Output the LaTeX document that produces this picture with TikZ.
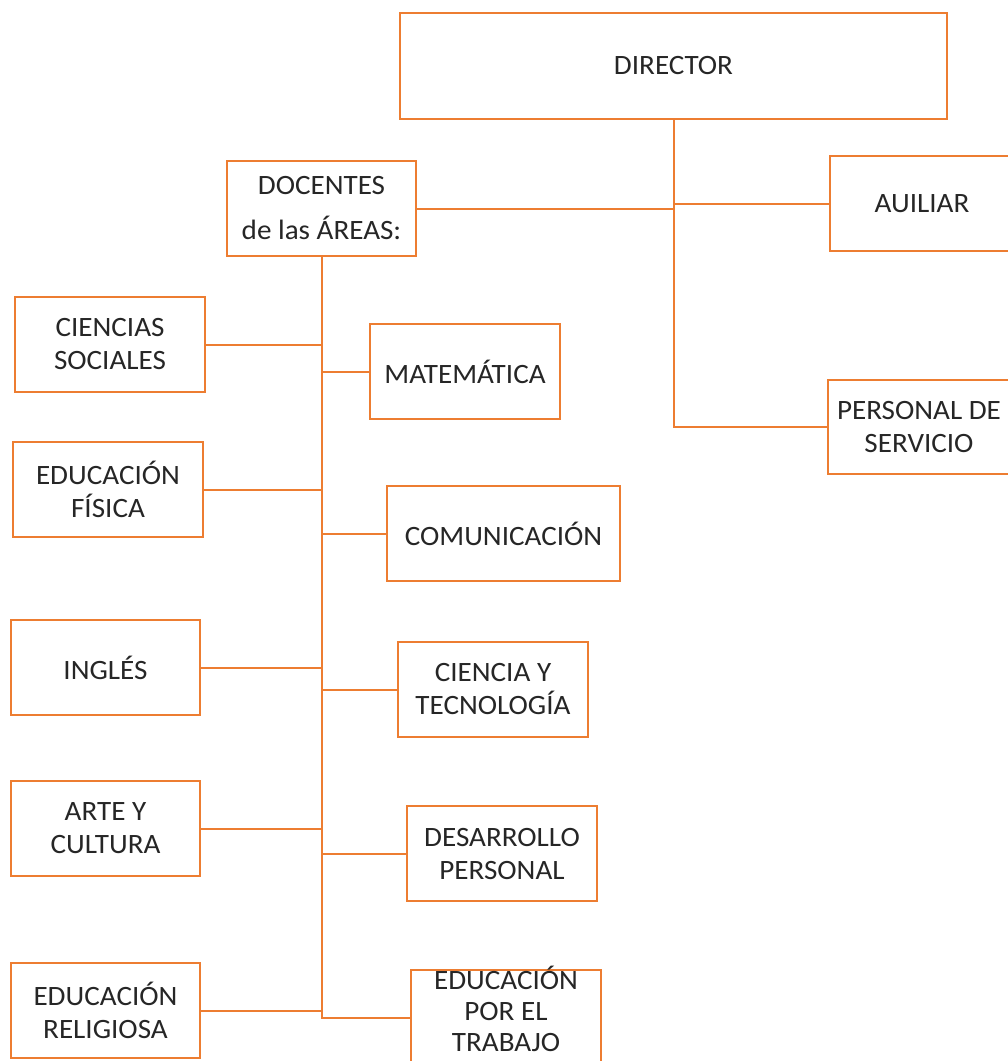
\documentclass[tikz,border=0pt]{standalone}
\usepackage{fontspec}
\setmainfont{Carlito}[FakeStretch=1.04]
\definecolor{org}{HTML}{ED7D31}
\begin{document}
\begin{tikzpicture}[x=1pt,y=-1pt,
  box/.style={draw=org,line width=2pt,fill=white,align=center,inner sep=0pt,
    font=\fontsize{28}{33}\selectfont,text=black!85},
  conn/.style={draw=org,line width=2pt}]
\useasboundingbox (0,0) rectangle (1008,1061);
\clip (0,0) rectangle (1008,1061);
% boxes
\node[box,minimum width=547pt,minimum height=106pt] (dir) at (673.5,66) {DIRECTOR};
\node[box,minimum width=189pt,minimum height=95pt] (doc) at (321.5,208.5) {DOCENTES\\[12pt]de las ÁREAS:};
\node[box,minimum width=184pt,minimum height=95pt] (aux) at (922,203.5) {AUILIAR};
\node[box,minimum width=182pt,minimum height=94pt] (pers) at (919,427) {PERSONAL DE\\SERVICIO};
\node[box,minimum width=190pt,minimum height=95pt] (cs) at (110,344.5) {CIENCIAS\\SOCIALES};
\node[box,minimum width=190pt,minimum height=95pt] (mat) at (465,371.5) {MATEMÁTICA};
\node[box,minimum width=190pt,minimum height=95pt] (ef) at (108,489.5) {EDUCACIÓN\\FÍSICA};
\node[box,minimum width=233pt,minimum height=95pt] (com) at (503.5,533.5) {COMUNICACIÓN};
\node[box,minimum width=189pt,minimum height=95pt] (ing) at (105.5,667.5) {INGLÉS};
\node[box,minimum width=190pt,minimum height=95pt] (cyt) at (493,689.5) {CIENCIA Y\\TECNOLOGÍA};
\node[box,minimum width=189pt,minimum height=95pt] (ayc) at (105.5,828.5) {ARTE Y\\CULTURA};
\node[box,minimum width=190pt,minimum height=95pt] (dp) at (502,853.5) {DESARROLLO\\PERSONAL};
\node[box,minimum width=189pt,minimum height=95pt] (er) at (105.5,1010.5) {EDUCACIÓN\\RELIGIOSA};
\node[box,minimum width=190pt,minimum height=95pt] (ept) at (506,1017.5) {};
\node[font=\fontsize{28}{31}\selectfont,text=black!85,align=center,inner sep=0pt,anchor=north]
  (eptt) at (506,966) {EDUCACIÓN\\POR EL\\TRABAJO};
% connectors between nodes
\draw[conn] (dir.south) |- (pers.west);
\draw[conn] (doc.east) -- (doc.east -| dir.south);
\draw[conn] (aux.west) -- (aux.west -| dir.south);
\coordinate (tend) at (ept.west -| doc.south);
\draw[conn] (doc.south) -- (tend) -- (ept.west);
\foreach \n in {cs,mat,ef,com,ing,cyt,ayc,dp,er}
  \draw[conn] (\n) -- (\n -| doc.south);
\end{tikzpicture}
\end{document}
